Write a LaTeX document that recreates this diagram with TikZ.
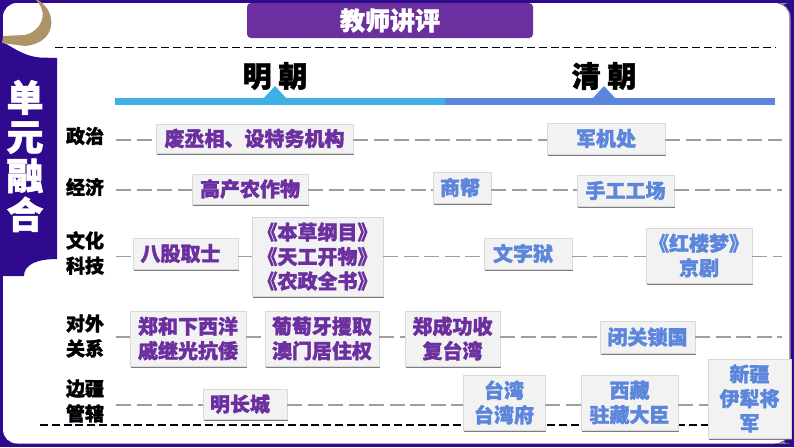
\documentclass[tikz,border=0pt]{standalone}
\usepackage{fontspec}
\setmainfont[BoldFeatures={FakeBold=1.6}]{Noto Sans CJK SC}
\usepackage{tikz}
\usetikzlibrary{shadows}
\definecolor{framepurple}{HTML}{2F0A8E}
\definecolor{titlepurple}{HTML}{6B2FA0}
\definecolor{mingblue}{HTML}{3FB0E5}
\definecolor{qingblue}{HTML}{5B86DC}
\definecolor{brushtan}{HTML}{AD9468}
\tikzstyle{every node}=[font=\bfseries]
\tikzstyle{eventbox}=[draw=gray!30,fill=black!5,align=center,inner sep=0pt,
  font=\fontsize{20}{24.5}\bfseries\selectfont,
  drop shadow={shadow xshift=1.3pt,shadow yshift=-1.5pt,fill=black!60,opacity=0.85}]
\tikzstyle{mingbox}=[eventbox,text=titlepurple]
\tikzstyle{qingbox}=[eventbox,text=qingblue]
\tikzstyle{rowlabel}=[align=center,inner sep=0pt,font=\fontsize{19}{25}\bfseries\selectfont]
\tikzstyle{dynasty}=[inner sep=0pt,font=\fontsize{29}{30}\bfseries\selectfont]
\tikzstyle{rowline}=[draw=black!38,line width=1.2pt,dash pattern=on 15pt off 5.5pt]
\tikzstyle{sepline}=[draw=black!90!blue,line width=1.5pt,dash pattern=on 8pt off 3.8pt]

\begin{document}
\begin{tikzpicture}[x=1pt,y=-1pt]
  \useasboundingbox (0,0) rectangle (794,447);
  % frame and side band
  \fill[framepurple] (0,0) rectangle (794,447);
  \fill[black!40] (776,3) [rounded corners=14pt] -- (790.5,3) -- (790.5,443.5) -- (776,443.5) -- cycle;
  \fill[white,rounded corners=14pt] (3,3) rectangle (789,443.5);
  \fill[framepurple] (0,41) .. controls (12,46) and (22,56) .. (40,57.5) -- (57,58) -- (57,259)
    .. controls (38,259) and (24,264) .. (24,276) -- (0,276) -- cycle;
  \fill[brushtan] (38,0) .. controls (58,12) and (57,43) .. (25,46) -- (2,43)
    -- (3,36) -- (25,35) .. controls (40,32) and (50,14) .. (36,0) -- cycle;
  \node[inner sep=0pt,text=white,align=center,font=\fontsize{37}{39}\bfseries\selectfont] (bandtitle) at (25,156) {单\\元\\融\\合};
  % title
  \node[fill=titlepurple,rounded corners=4pt,minimum width=286,minimum height=35,inner sep=0pt,
    text=white,font=\fontsize{25}{26}\bfseries\selectfont] (title) at (390,20.5) {教师讲评};
  % separators
  \coordinate (topa) at (55,47.5);
  \coordinate (topb) at (775,47.5);
  \coordinate (bota) at (40,425);
  \coordinate (botb) at (712,425);
  \draw[sepline] (topa) -- (topb);
  \draw[sepline] (bota) -- (botb);
  % timeline
  \fill[mingblue] (115,98) rectangle (445,105);
  \fill[qingblue] (445,98) rectangle (775,105);
  \fill[mingblue] (263,99) -- (275,86) -- (287,99) -- cycle;
  \fill[qingblue] (592,99) -- (604,86) -- (616,99) -- cycle;
  \node[dynasty] (ming) at (275,76) {明 朝};
  \node[dynasty] (qing) at (604,76) {清 朝};
  % rows
  \node[rowlabel] (zhengzhi) at (85,136) {政治};
  \node[rowlabel] (jingji) at (85,187) {经济};
  \node[rowlabel] (wenhua) at (85,253) {文化\\科技};
  \node[rowlabel] (duiwai) at (85,336) {对外\\关系};
  \node[rowlabel] (bianjiang) at (85,401) {边疆\\管辖};
  \coordinate (r1a) at (116,140);   \coordinate (r1b) at (782,140);
  \coordinate (r2a) at (116,190);   \coordinate (r2b) at (782,190);
  \coordinate (r3a) at (116,256.7); \coordinate (r3b) at (782,256.7);
  \coordinate (r4a) at (116,337);   \coordinate (r4b) at (782,337);
  \coordinate (r5a) at (116,405);
  % ming events
  \node[mingbox,minimum width=197,minimum height=29] (feicheng) at (254.5,138.5) {废丞相、设特务机构};
  \node[mingbox,minimum width=116,minimum height=30] (gaochan) at (250,189) {高产农作物};
  \node[mingbox,minimum width=105,minimum height=31] (bagu) at (185.5,253.5) {八股取士\hspace{10pt}};
  \node[mingbox,minimum width=131,minimum height=79] (bencao) at (317.5,256.5) {《本草纲目》\\《天工开物》\\《农政全书》};
  \node[mingbox,minimum width=116,minimum height=55] (zhenghe) at (188,338.5) {郑和下西洋\\戚继光抗倭};
  \node[mingbox,minimum width=114,minimum height=55] (putao) at (322,338.5) {葡萄牙攫取\\澳门居住权};
  \node[mingbox,minimum width=95,minimum height=55] (zhengcg) at (452.5,338.5) {郑成功收\\复台湾};
  \node[mingbox,minimum width=84,minimum height=30] (changcheng) at (245,404) {明长城\hspace{10pt}};
  % qing events
  \node[qingbox,minimum width=118,minimum height=31] (junji) at (606,138.5) {军机处};
  \node[qingbox,minimum width=58,minimum height=31] (shangbang) at (462,187.5) {商帮\hspace{4pt}};
  \node[qingbox,minimum width=97,minimum height=31] (shougong) at (625.5,190.5) {手工工场};
  \node[qingbox,minimum width=88,minimum height=31] (wenzi) at (528,253.5) {文字狱\hspace{10pt}};
  \node[qingbox,minimum width=106,minimum height=55] (honglou) at (699,255.5) {《红楼梦》\\京剧};
  \node[qingbox,minimum width=95,minimum height=32] (biguan) at (647.5,337) {闭关锁国};
  \node[qingbox,minimum width=82,minimum height=55] (taiwan) at (504,402.5) {台湾\\台湾府};
  \node[qingbox,minimum width=97,minimum height=55] (xizang) at (629.5,402.5) {西藏\\驻藏大臣};
  \node[qingbox,minimum width=83,minimum height=79,text width=66] (xinjiang) at (749.5,398.5) {新疆\\伊犁将\\军};
  % row connectors
  \draw[rowline] (r1a) -- (r1a -| feicheng.west);
  \draw[rowline] (r1a -| feicheng.east) -- (r1a -| junji.west);
  \draw[rowline] (r1a -| junji.east) -- (r1b);
  \draw[rowline] (r2a) -- (r2a -| gaochan.west);
  \draw[rowline] (r2a -| gaochan.east) -- (r2a -| shangbang.west);
  \draw[rowline] (r2a -| shangbang.east) -- (r2a -| shougong.west);
  \draw[rowline] (r2a -| shougong.east) -- (r2b);
  \draw[rowline] (r3a) -- (r3a -| bagu.west);
  \draw[rowline] (r3a -| bagu.east) -- (r3a -| bencao.west);
  \draw[rowline] (r3a -| bencao.east) -- (r3a -| wenzi.west);
  \draw[rowline] (r3a -| wenzi.east) -- (r3a -| honglou.west);
  \draw[rowline] (r3a -| honglou.east) -- (r3b);
  \draw[rowline] (r4a) -- (r4a -| zhenghe.west);
  \draw[rowline] (r4a -| zhenghe.east) -- (r4a -| putao.west);
  \draw[rowline] (r4a -| putao.east) -- (r4a -| zhengcg.west);
  \draw[rowline] (r4a -| zhengcg.east) -- (r4a -| biguan.west);
  \draw[rowline] (r4a -| biguan.east) -- (r4b);
  \draw[rowline] (r5a) -- (r5a -| changcheng.west);
  \draw[rowline] (r5a -| changcheng.east) -- (r5a -| taiwan.west);
  \draw[rowline] (r5a -| taiwan.east) -- (r5a -| xizang.west);
  \draw[rowline] (r5a -| xizang.east) -- (r5a -| xinjiang.west);
\end{tikzpicture}
\end{document}
